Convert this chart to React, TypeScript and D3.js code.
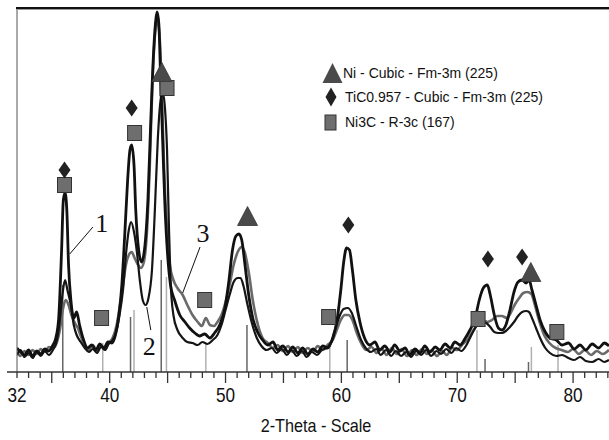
import * as d3 from 'd3'

// diffractogram traces, [2-theta, counts]
const curve1 = [
  [32.0, 240], [32.3, 200], [32.65, 170], [33.0, 220], [33.35, 160], [33.7, 210], [34.05, 180], [34.4, 230],
  [34.75, 210], [35.1, 270], [35.35, 340], [35.6, 540], [35.85, 1220], [36.0, 1720], [36.15, 1790], [36.3, 1620],
  [36.45, 1070], [36.65, 720], [36.9, 540], [37.15, 600], [37.4, 470], [37.75, 320], [38.1, 240], [38.45, 270],
  [38.8, 220], [39.15, 280], [39.5, 240], [39.85, 300], [40.2, 290], [40.5, 370], [40.8, 570], [41.05, 870],
  [41.3, 1370], [41.55, 1920], [41.75, 2220], [41.9, 2270], [42.1, 2070], [42.25, 1620], [42.5, 1220], [42.75, 1100],
  [43.0, 1220], [43.3, 1720], [43.55, 2520], [43.8, 3220], [44.0, 3540], [44.1, 3600], [44.25, 3470], [44.4, 2920],
  [44.6, 2220], [44.75, 1720], [45.0, 1170], [45.25, 870], [45.6, 720], [46.05, 570], [46.5, 500], [46.9, 440],
  [47.35, 390], [47.75, 360], [48.2, 380], [48.65, 340], [49.05, 390], [49.5, 470], [49.95, 640], [50.3, 920],
  [50.6, 1220], [50.9, 1360], [51.15, 1380], [51.4, 1320], [51.65, 1100], [52.0, 770], [52.35, 540], [52.8, 390],
  [53.2, 320], [53.65, 270], [54.1, 300], [54.5, 220], [54.95, 260], [55.4, 200], [55.8, 250], [56.25, 190],
  [56.65, 240], [57.1, 180], [57.55, 230], [57.95, 200], [58.4, 260], [58.8, 240], [59.25, 340], [59.6, 500],
  [59.95, 820], [60.2, 1100], [60.45, 1240], [60.7, 1220], [60.95, 1020], [61.25, 720], [61.6, 500], [62.0, 340],
  [62.45, 270], [62.9, 300], [63.3, 220], [63.75, 260], [64.2, 200], [64.6, 270], [65.05, 210], [65.5, 240],
  [65.9, 170], [66.35, 230], [66.8, 190], [67.2, 260], [67.65, 200], [68.1, 250], [68.5, 220], [68.95, 280],
  [69.4, 240], [69.8, 300], [70.25, 270], [70.7, 340], [71.1, 420], [71.55, 540], [71.9, 720], [72.25, 840],
  [72.6, 870], [72.85, 770], [73.2, 570], [73.55, 440], [73.85, 420], [74.2, 470], [74.55, 620], [74.9, 800],
  [75.25, 900], [75.6, 920], [75.95, 890], [76.2, 920], [76.45, 820], [76.8, 670], [77.15, 520], [77.6, 400],
  [78.0, 340], [78.55, 320], [79.05, 270], [79.6, 290], [80.1, 230], [80.6, 270], [81.1, 220], [81.65, 280],
  [82.2, 240], [82.7, 290], [83.1, 260],
]

const curve2 = [
  [32.0, 170], [32.3, 220], [32.65, 150], [33.0, 190], [33.35, 140], [33.7, 200], [34.05, 160], [34.4, 210],
  [34.75, 170], [35.1, 220], [35.45, 320], [35.7, 520], [35.95, 800], [36.15, 920], [36.35, 820], [36.65, 670],
  [36.9, 470], [37.15, 370], [37.5, 300], [37.85, 240], [38.2, 200], [38.55, 230], [38.9, 190], [39.25, 250],
  [39.6, 220], [39.9, 280], [40.25, 320], [40.6, 420], [40.85, 570], [41.15, 820], [41.4, 1170], [41.65, 1420],
  [41.85, 1500], [42.1, 1400], [42.35, 1200], [42.6, 920], [42.85, 720], [43.1, 670], [43.35, 740], [43.65, 1020],
  [43.9, 1620], [44.15, 2320], [44.4, 2720], [44.6, 2790], [44.75, 2670], [44.95, 2220], [45.1, 1520], [45.25, 920],
  [45.5, 570], [45.85, 420], [46.3, 340], [46.7, 300], [47.15, 290], [47.6, 270], [48.0, 300], [48.45, 280],
  [48.9, 320], [49.3, 370], [49.65, 470], [50.0, 620], [50.35, 770], [50.7, 900], [51.05, 940], [51.3, 940],
  [51.55, 860], [51.9, 670], [52.25, 500], [52.7, 340], [53.1, 260], [53.55, 220], [54.0, 240], [54.4, 190],
  [54.85, 230], [55.3, 170], [55.7, 220], [56.15, 160], [56.6, 210], [57.0, 150], [57.45, 200], [57.9, 170],
  [58.3, 220], [58.75, 240], [59.2, 320], [59.5, 440], [59.85, 560], [60.2, 630], [60.55, 640], [60.9, 590],
  [61.25, 470], [61.7, 320], [62.1, 240], [62.55, 200], [63.0, 230], [63.4, 170], [63.85, 220], [64.3, 160],
  [64.7, 210], [65.15, 160], [65.6, 200], [66.0, 150], [66.45, 210], [66.9, 170], [67.3, 220], [67.75, 160],
  [68.2, 210], [68.6, 180], [69.05, 230], [69.5, 190], [69.9, 240], [70.35, 210], [70.8, 270], [71.1, 340],
  [71.45, 420], [71.8, 480], [72.15, 500], [72.5, 490], [72.85, 450], [73.2, 400], [73.55, 390], [73.85, 390],
  [74.2, 410], [74.55, 450], [74.9, 500], [75.25, 560], [75.6, 600], [75.95, 610], [76.2, 600], [76.45, 540],
  [76.8, 440], [77.15, 340], [77.6, 240], [78.0, 190], [78.55, 160], [79.05, 170], [79.6, 140], [80.1, 120],
  [80.6, 150], [81.1, 110], [81.65, 100], [82.2, 130], [82.7, 100], [83.1, 120],
]

const curve3 = [
  [32.0, 200], [32.3, 160], [32.65, 210], [33.0, 170], [33.35, 220], [33.7, 180], [34.05, 230], [34.4, 200],
  [34.75, 250], [35.1, 240], [35.45, 300], [35.7, 420], [35.95, 620], [36.2, 720], [36.45, 670], [36.7, 570],
  [37.0, 490], [37.25, 440], [37.5, 360], [37.85, 260], [38.2, 220], [38.55, 270], [38.9, 210], [39.25, 260],
  [39.6, 230], [39.9, 290], [40.25, 340], [40.6, 470], [40.85, 640], [41.15, 870], [41.4, 1070], [41.65, 1170],
  [41.9, 1200], [42.15, 1140], [42.4, 1080], [42.7, 1040], [42.95, 1100], [43.2, 1370], [43.45, 2020], [43.7, 2920],
  [43.95, 3420], [44.1, 3520], [44.3, 3370], [44.5, 2820], [44.7, 2020], [44.95, 1420], [45.2, 1070], [45.5, 920],
  [45.85, 840], [46.3, 770], [46.7, 670], [47.15, 570], [47.6, 500], [47.95, 460], [48.3, 540], [48.65, 470],
  [49.0, 460], [49.3, 500], [49.65, 570], [50.0, 700], [50.35, 870], [50.7, 1070], [51.05, 1200], [51.4, 1250],
  [51.65, 1200], [52.0, 1000], [52.35, 720], [52.8, 470], [53.2, 340], [53.65, 290], [54.1, 240], [54.5, 270],
  [54.95, 210], [55.4, 260], [55.8, 200], [56.25, 250], [56.65, 190], [57.1, 240], [57.55, 200], [57.95, 260],
  [58.4, 220], [58.8, 270], [59.25, 320], [59.6, 420], [59.95, 520], [60.3, 570], [60.6, 570], [60.95, 520],
  [61.3, 400], [61.7, 290], [62.15, 220], [62.6, 250], [63.05, 190], [63.5, 230], [63.9, 170], [64.35, 240],
  [64.8, 180], [65.2, 230], [65.65, 160], [66.1, 220], [66.5, 170], [66.95, 230], [67.4, 180], [67.8, 220],
  [68.25, 160], [68.7, 210], [69.1, 170], [69.55, 240], [70.0, 220], [70.4, 270], [70.85, 320], [71.3, 400],
  [71.7, 470], [72.15, 520], [72.6, 500], [73.0, 520], [73.45, 560], [73.85, 560], [74.3, 540], [74.65, 600],
  [75.0, 680], [75.35, 740], [75.7, 790], [76.05, 800], [76.4, 780], [76.7, 670], [77.05, 520], [77.5, 370],
  [77.95, 290], [78.5, 240], [79.0, 220], [79.55, 200], [80.0, 230], [80.5, 180], [81.0, 220], [81.55, 170],
  [82.05, 210], [82.55, 180], [83.1, 220],
]

// reference pattern sticks [2-theta, counts, dark?]
const sticks = [
  [35.95, 870, 1], [39.4, 290, 0], [41.8, 550, 1], [42.1, 620, 0], [44.45, 1120, 1], [44.9, 950, 0],
  [48.3, 290, 0], [51.85, 470, 1], [59.0, 270, 0], [60.5, 320, 1], [71.7, 420, 0], [72.4, 130, 1],
  [76.15, 100, 1], [76.4, 250, 0], [78.7, 270, 0],
]

// phase markers [2-theta, counts]
const niMarks = [[44.5, 3000], [51.9, 1560], [76.35, 1000]]
const ticMarks = [[36.1, 2020], [41.9, 2640], [60.6, 1470], [72.65, 1130], [75.6, 1150]]
const ni3cMarks = [[36.1, 1870], [39.3, 540], [42.15, 2390], [44.95, 2840], [48.2, 720], [58.9, 550], [71.8, 530], [78.6, 400]]

const legendLabels = ['Ni - Cubic - Fm-3m (225)', 'TiC0.957 - Cubic - Fm-3m (225)', 'Ni3C - R-3c (167)']
const tickLabels = [32, 40, 50, 60, 70, 80]

// curve numbers: label pos, leader from, leader to
const notes = [
  { t: '1', at: [38.75, 1400], a: [36.55, 1180], b: [38.55, 1450] },
  { t: '2', at: [42.85, 170], a: [43.2, 650], b: [43.55, 420] },
  { t: '3', at: [47.5, 1300], a: [47.8, 1250], b: [46.3, 790] },
]

const W = 609, H = 440
const left = 17, right = 609, top = 8, bottom = 372

export default function App() {
  const x = d3.scaleLinear().domain([32, 83.1]).range([left, right])
  const y = d3.scaleLinear().domain([0, 3640]).range([bottom, top])

  const line = d3.line<number[]>()
    .x(d => x(d[0]))
    .y(d => y(d[1]))
    .curve(d3.curveMonotoneX)

  const minor = d3.range(32, 84, 1)
  const sans = 'Liberation Sans, Arial, sans-serif'

  const tri = (cx: number, cy: number, w: number, h: number) =>
    `M${cx},${cy - h / 2}L${cx + w / 2},${cy + h / 2}L${cx - w / 2},${cy + h / 2}Z`
  const dia = (cx: number, cy: number, w: number, h: number) =>
    `M${cx},${cy - h / 2}L${cx + w / 2},${cy}L${cx},${cy + h / 2}L${cx - w / 2},${cy}Z`

  return (
    <svg width={W} height={H} style={{ position: 'absolute', left: 0, top: 0, background: '#fff' }}>
      <rect width={W} height={H} fill="#fff" />
      <clipPath id="plot">
        <rect x={left} y={top} width={right - left} height={bottom - top} />
      </clipPath>

      {/* sticks */}
      {sticks.map((s, i) => (
        <line key={'s' + i} x1={x(s[0])} x2={x(s[0])} y1={y(0)} y2={y(s[1])}
          stroke={s[2] ? '#666' : '#b0b0b0'} strokeWidth={1.5} />
      ))}

      {/* traces */}
      <g clipPath="url(#plot)" fill="none" strokeLinejoin="round">
        <path d={line(curve3) || ''} stroke="#6a6a6a" strokeWidth={2.6} />
        <path d={line(curve2) || ''} stroke="#151515" strokeWidth={2.2} />
        <path d={line(curve1) || ''} stroke="#111" strokeWidth={2.8} />
      </g>

      {/* frame */}
      <line x1={left} x2={left} y1={top} y2={bottom} stroke="#555" strokeWidth={1} />
      <line x1={left - 1} x2={right} y1={top} y2={top} stroke="#111" strokeWidth={2} />
      <line x1={left - 1} x2={right} y1={top + 1.5} y2={top + 1.5} stroke="#999" strokeWidth={1} />
      <line x1={7} x2={right} y1={bottom} y2={bottom} stroke="#333" strokeWidth={1.5} />

      {/* ticks */}
      {minor.map(v => (
        <line key={'t' + v} x1={x(v)} x2={x(v)} y1={bottom} y2={bottom + (v % 5 === 0 ? 11 : 6)}
          stroke="#333" strokeWidth={1.3} />
      ))}
      {tickLabels.map(v => (
        <text key={'l' + v} transform={`translate(${x(v)},402) scale(0.86,1)`} textAnchor="middle"
          fontFamily={sans} fontSize={20} fill="#111">{v}</text>
      ))}
      <text transform="translate(316,432) scale(0.9,1)" textAnchor="middle" fontFamily={sans} fontSize={18} fill="#111">2-Theta - Scale</text>

      {/* phase markers */}
      {ni3cMarks.map((m, i) => (
        <rect key={'q' + i} x={x(m[0]) - 7} y={y(m[1]) - 7.5} width={14} height={15}
          fill="#6e6e6e" stroke="#333" strokeWidth={1} />
      ))}
      {niMarks.map((m, i) => (
        <path key={'n' + i} d={tri(x(m[0]), y(m[1]), 20, 19)} fill="#4a4a4a" stroke="#333" strokeWidth={0.8} />
      ))}
      {ticMarks.map((m, i) => (
        <path key={'d' + i} d={dia(x(m[0]), y(m[1]), 12, 17)} fill="#222" />
      ))}

      {/* curve numbers */}
      {notes.map(n => (
        <g key={'a' + n.t}>
          <line x1={x(n.a[0])} y1={y(n.a[1])} x2={x(n.b[0])} y2={y(n.b[1])} stroke="#111" strokeWidth={1} />
          <text x={x(n.at[0])} y={y(n.at[1])} fontFamily="Liberation Serif, Times New Roman, serif" fontSize={26} fill="#111">{n.t}</text>
        </g>
      ))}

      {/* legend */}
      <g fontFamily={sans} fontSize={14} fill="#111">
        <path d={tri(332.5, 73, 20, 20)} fill="#4a4a4a" />
        <text x={343} y={78}>{legendLabels[0]}</text>
        <path d={dia(331, 97, 11, 19)} fill="#222" />
        <text x={345} y={102}>{legendLabels[1]}</text>
        <rect x={325} y={115} width={11} height={15} fill="#6e6e6e" stroke="#333" strokeWidth={1} />
        <text x={345} y={127}>{legendLabels[2]}</text>
      </g>
    </svg>
  )
}
